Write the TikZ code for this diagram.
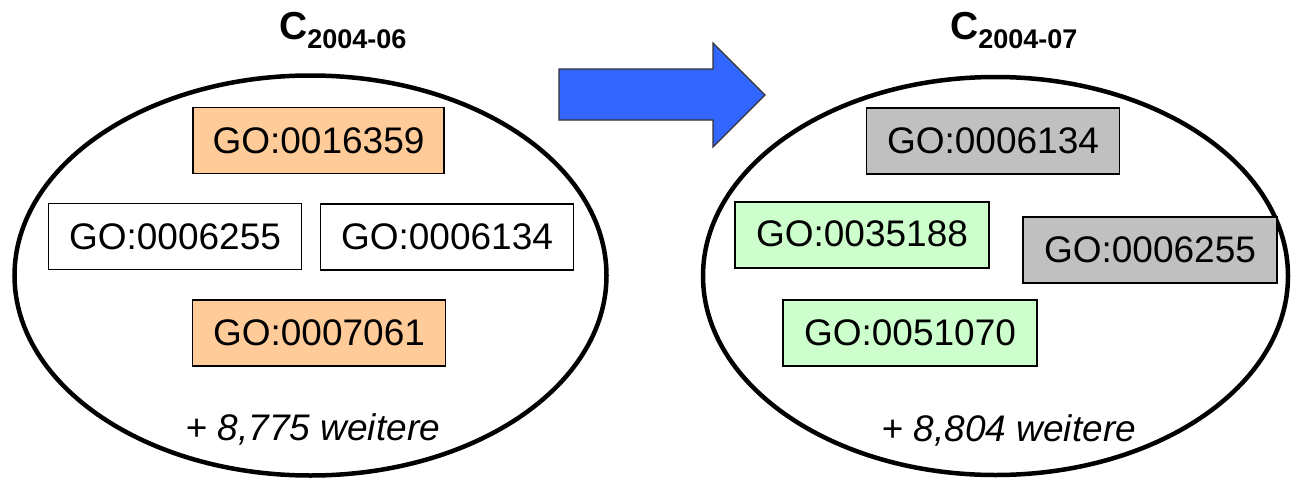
\documentclass[tikz,border=0pt]{standalone}
\usepackage{fontspec}
\setmainfont{Liberation Sans}
\usepackage{tikz}
\usetikzlibrary{positioning}
\definecolor{orangebox}{HTML}{FFCC99}
\definecolor{greenbox}{HTML}{CCFFCC}
\definecolor{graybox}{HTML}{C0C0C0}
\definecolor{arrowblue}{HTML}{3366FF}
\tikzset{
	set/.style = {line width=4.5pt},
	gobox/.style = {draw, line width=1.5pt, minimum width=253pt, minimum height=66pt, inner sep=0pt, font=\fontsize{37}{42}\selectfont},
	oldterm/.style = {gobox, fill=orangebox},
	newterm/.style = {gobox, fill=greenbox},
	moved/.style = {gobox, fill=graybox},
	rest/.style = {inner sep=0pt, font=\fontsize{37}{42}\selectfont},
	title/.style = {anchor=base west, inner sep=0pt, font=\fontsize{39}{44}\selectfont\bfseries}
}
\newcommand{\release}[1]{C\raisebox{-9pt}{\fontsize{27}{30}\selectfont #1}}

\begin{document}
\begin{tikzpicture}[x=1pt, y=-1pt]
		\useasboundingbox (0,0) rectangle (1291,479);
		
		% Releases
		\draw[set] (310.5,275.5) ellipse [x radius=296, y radius=200];
		\draw[set] (995.5,276) ellipse [x radius=292.5, y radius=199];
		\node[title] (t1) at (279,39) {\release{2004-06}};
		\node[title] (t2) at (950,39) {\release{2004-07}};
		
		% Terms in C_2004-06
		\node[oldterm, minimum width=251pt] (a1) at (318.5,140.5) {GO:0016359};
		\node[gobox] (a2) at (175,236.5) {GO:0006255};
		\node[gobox] (a3) at (447,237) {GO:0006134};
		\node[oldterm] (a4) at (319,333) {GO:0007061};
		\node[rest] (r1) at (313,429) {+ \textit{8,775 weitere}};
		
		% Terms in C_2004-07
		\node[moved] (b1) at (993,141) {GO:0006134};
		\node[newterm, minimum width=254pt] (b2) at (862,235) {\raisebox{3pt}{GO:0035188}};
		\node[moved, minimum width=254pt] (b3) at (1150,250) {GO:0006255};
		\node[newterm, minimum width=254pt] (b4) at (910,333) {GO:0051070};
		\node[rest] (r2) at (1009,430) {+ \textit{8,804 weitere}};
		
		% Transition
		\draw[fill=arrowblue, draw=black!80, line width=1.2pt] (559,69) -- (713,69) -- (713,43) -- (765,95) -- (713,147) -- (713,120) -- (559,120) -- cycle;
\end{tikzpicture}
\end{document}
